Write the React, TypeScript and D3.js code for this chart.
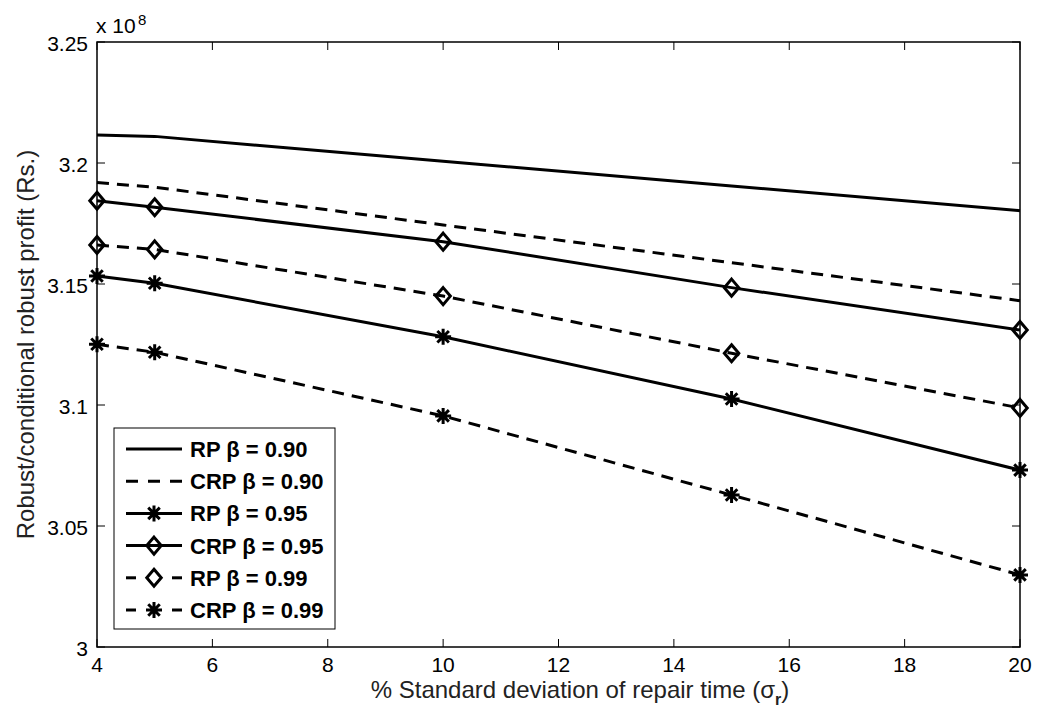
import React from "react";
import * as d3 from "d3";

const xValues = [4, 5, 10, 15, 20];
const rp90 = [3.2116, 3.211, 3.2007, 3.1905, 3.1803];
const crp90 = [3.1919, 3.19, 3.1744, 3.1588, 3.1431];
const rp95 = [3.1533, 3.1503, 3.1282, 3.1025, 3.0731];
const crp95 = [3.1844, 3.1817, 3.1675, 3.1485, 3.131];
const rp99 = [3.1661, 3.1643, 3.145, 3.1214, 3.0988];
const crp99 = [3.1251, 3.1218, 3.0955, 3.0628, 3.0298];

const xTicks = [4, 6, 8, 10, 12, 14, 16, 18, 20];
const yTicks = [3, 3.05, 3.1, 3.15, 3.2, 3.25];

type Series = { label: string; values: number[]; dashed: boolean; marker: "none" | "star" | "diamond" };
const series: Series[] = [
  { label: "RP β = 0.90", values: rp90, dashed: false, marker: "none" },
  { label: "CRP β = 0.90", values: crp90, dashed: true, marker: "none" },
  { label: "RP β = 0.95", values: rp95, dashed: false, marker: "star" },
  { label: "CRP β = 0.95", values: crp95, dashed: false, marker: "diamond" },
  { label: "RP β = 0.99", values: rp99, dashed: true, marker: "diamond" },
  { label: "CRP β = 0.99", values: crp99, dashed: true, marker: "star" },
];

const W = 1039, H = 719;
const L = 97, R = 1020, T = 42, B = 647;
const FONT = "'Liberation Sans', Arial, Helvetica, sans-serif";

function Marker({ kind, cx, cy }: { kind: string; cx: number; cy: number }) {
  if (kind === "diamond") {
    const r = 8.5;
    return (
      <path d={`M${cx},${cy - r}L${cx + r * 0.85},${cy}L${cx},${cy + r}L${cx - r * 0.85},${cy}Z`} fill="none" stroke="#000" strokeWidth={3} />
    );
  }
  if (kind === "star") {
    const r = 8;
    const d = r * 0.72;
    return (
      <path
        d={`M${cx},${cy - r}V${cy + r}M${cx - r},${cy}H${cx + r}M${cx - d},${cy - d}L${cx + d},${cy + d}M${cx - d},${cy + d}L${cx + d},${cy - d}`}
        stroke="#000"
        strokeWidth={3}
        fill="none"
      />
    );
  }
  return null;
}

export default function App() {
  const x = d3.scaleLinear().domain([4, 20]).range([L, R]);
  const y = d3.scaleLinear().domain([3.0, 3.25]).range([B, T]);
  const line = d3
    .line<number>()
    .x((_, i) => x(xValues[i]))
    .y((v) => y(v));
  const tickLen = 8;
  const legX = 114, legY = 428, legW = 221, legH = 201;
  const rowH = 32.2;
  return (
    <svg width={W} height={H} style={{ position: "absolute", left: 0, top: 0, background: "#fff" }} fontFamily={FONT}>
      <rect x={0} y={0} width={W} height={H} fill="#fff" />
      {xTicks.map((t) => (
        <g key={"xt" + t}>
          <line x1={x(t)} x2={x(t)} y1={B} y2={B - tickLen} stroke="#000" strokeWidth={1} />
          <line x1={x(t)} x2={x(t)} y1={T} y2={T + tickLen} stroke="#000" strokeWidth={1} />
          <text x={x(t)} y={B + 25} textAnchor="middle" fontSize={21} fill="#000">
            {t}
          </text>
        </g>
      ))}
      {yTicks.map((t) => (
        <g key={"yt" + t}>
          <line x1={L} x2={L + tickLen} y1={y(t)} y2={y(t)} stroke="#000" strokeWidth={1} />
          <line x1={R} x2={R - tickLen} y1={y(t)} y2={y(t)} stroke="#000" strokeWidth={1} />
          <text x={L - 9} y={y(t) + 9} textAnchor="end" fontSize={21} fill="#000">
            {d3.format("~g")(t)}
          </text>
        </g>
      ))}
      {series.map((s) => (
        <g key={s.label}>
          <path d={line(s.values) || ""} fill="none" stroke="#000" strokeWidth={3} strokeDasharray={s.dashed ? "12,8" : undefined} />
          {s.values.map((v, i) => (
            <Marker key={i} kind={s.marker} cx={x(xValues[i])} cy={y(v)} />
          ))}
        </g>
      ))}
      <rect x={L} y={T} width={R - L} height={B - T} fill="none" stroke="#000" strokeWidth={1.5} />
      <text x={L - 1} y={33} fontSize={21} fill="#000">
        x 10
      </text>
      <text x={L + 41} y={25} fontSize={15} fill="#000">
        8
      </text>
      <rect x={legX} y={legY} width={legW} height={legH} fill="#fff" stroke="#000" strokeWidth={1} />
      {series.map((s, i) => {
        const cy = legY + 21 + i * rowH;
        const x1 = 126, x2 = 182;
        const mid = (x1 + x2) / 2;
        return (
          <g key={"leg" + i}>
            {s.dashed && s.marker !== "none" ? (
              <>
                <line x1={x1} x2={x1 + 10} y1={cy} y2={cy} stroke="#000" strokeWidth={3} />
                <line x1={x2 - 10} x2={x2} y1={cy} y2={cy} stroke="#000" strokeWidth={3} />
              </>
            ) : (
              <line x1={x1} x2={x2} y1={cy} y2={cy} stroke="#000" strokeWidth={3} strokeDasharray={s.dashed ? "12,10" : undefined} />
            )}
            <Marker kind={s.marker} cx={mid} cy={cy} />
            <text x={190} y={cy + 8} fontSize={22} fontWeight="bold" fill="#000">
              {s.label}
            </text>
          </g>
        );
      })}
      <text x={580} y={698} textAnchor="middle" fontSize={24} fill="#222">
        % Standard deviation of repair time (σ
        <tspan dy={7} fontSize={16} fontWeight="bold">r</tspan>
        <tspan dy={-7}>)</tspan>
      </text>
      <text transform={`translate(34,${(T + B) / 2}) rotate(-90)`} textAnchor="middle" fontSize={24} fill="#222">
        Robust/conditional robust profit (Rs.)
      </text>
    </svg>
  );
}
